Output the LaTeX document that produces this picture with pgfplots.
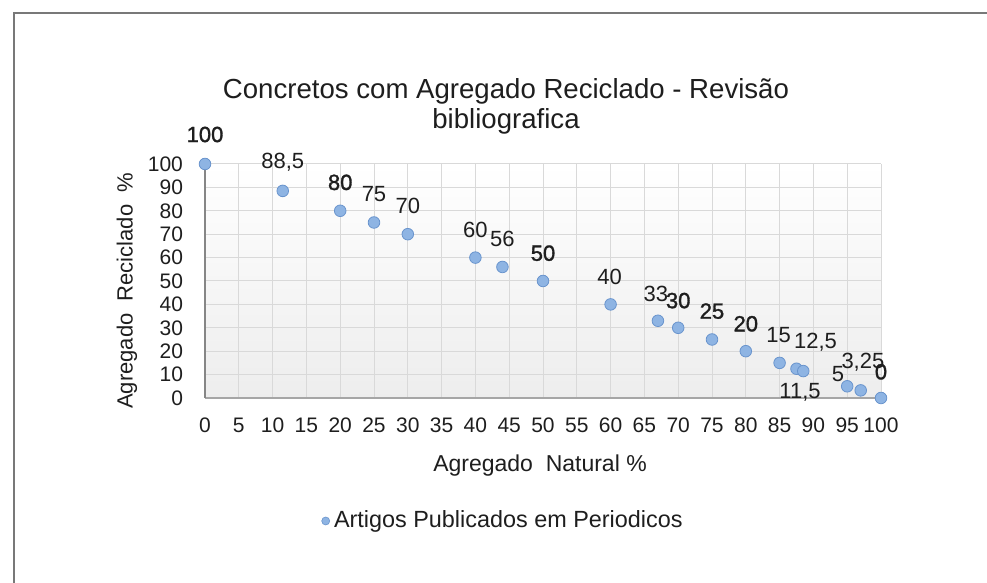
\documentclass[border=0pt]{standalone}
\usepackage{fontspec}
\setmainfont{Liberation Sans}
\newfontfamily\fbfont[FakeBold=1.4]{Liberation Sans}
\protected\def\fb#1{{\fbfont #1}}
\usepackage{pgfplots}
\pgfplotsset{compat=1.18}
\usepackage{pgfplotstable}

\definecolor{mfill}{RGB}{142,180,227}
\definecolor{mdraw}{RGB}{105,148,205}
\definecolor{gridc}{RGB}{217,217,217}
\definecolor{axc}{RGB}{134,134,134}
\definecolor{framec}{RGB}{120,120,120}
\definecolor{txt}{RGB}{30,30,30}

\pgfplotstableread{
x y lab dx dy
0 100 \fb{100} 0 14.75
11.5 88.5 88,5 0 14.2
20 80 \fb{80} 0 14.2
25 75 75 0 14
30 70 70 0 14
40 60 60 0 14
44 56 56 0 14
50 50 \fb{50} 0 13.9
60 40 40 -0.5 13.8
67 33 33 -1 13.5
70 30 \fb{30} 0 13.6
75 25 \fb{25} 0 14.2
80 20 \fb{20} 0 13.7
85 15 15 -0.5 13.8
87.5 12.5 12,5 9.5 13.2
88.5 11.5 11,5 -1.6 -10.5
95 5 5 -4.6 5.9
97 3.25 3,25 1.1 14
100 0 \fb{0} 0 13.1
}\data

\begin{document}
\begin{tikzpicture}
\useasboundingbox (0,0) rectangle (493.5pt,291.5pt);
\fill[white] (0,0) rectangle (493.5pt,291.5pt);
\draw[framec, line width=0.8pt] (7pt,0) -- (7pt,285pt) -- (493.5pt,285pt);
\node[anchor=base, font=\fontsize{13.8}{16}\selectfont, text=txt, inner sep=0pt] at (253pt,242.25pt) {Concretos com Agregado Reciclado - Revisão};
\node[anchor=base, font=\fontsize{13.8}{16}\selectfont, text=txt, inner sep=0pt] at (253pt,227pt) {bibliografica};
\begin{axis}[
  at={(102.5pt,92.5pt)}, anchor=south west,
  width=338pt, height=117pt, scale only axis,
  xmin=0, xmax=100, ymin=0, ymax=100,
  xtick={0,5,...,100}, ytick={0,10,...,100},
  grid=major, major grid style={gridc, line width=0.5pt},
  axis x line*=bottom, axis y line*=left,
  x axis line style={draw=black!35, line width=0.6pt, -},
  y axis line style={draw=axc, line width=0.7pt, -},
  major tick length=0pt,
  axis background/.style={shade, top color=white, bottom color=black!7},
  /pgf/number format/assume math mode=true,
  tick label style={font=\fontsize{10.5}{12}\selectfont, text=txt},
  xticklabel style={yshift=-6.5pt},
  yticklabel style={xshift=-7.5pt},
  xlabel={Agregado\ \ Natural \%},
  ylabel={Agregado\ \ Reciclado\ \ \%},
  label style={font=\fontsize{11.5}{13}\selectfont, text=txt},
  xlabel style={at={(axis description cs:0.4956,-0.2906)}, anchor=center},
  ylabel style={at={(axis description cs:-0.1154,0.458)}, anchor=center, font=\fontsize{11}{13}\selectfont},
  clip=false,
  legend style={at={(0.4423,-0.5256)}, anchor=center, draw=none, fill=none,
    font=\fontsize{11.7}{13}\selectfont, text=txt},
]
\addplot[only marks, mark=*, mark size=2.9pt,
  mark options={fill=mfill, draw=mdraw, line width=0.4pt},
  point meta=explicit symbolic,
  visualization depends on={\thisrow{dx} \as \dx},
  visualization depends on={\thisrow{dy} \as \dy},
  nodes near coords,
  every node near coord/.append style={font=\fontsize{11}{13}\selectfont, text=txt, anchor=center, xshift=\dx pt, yshift=\dy pt},
  legend image code/.code={\draw[fill=mfill, draw=mdraw, line width=0.3pt] (0pt,0pt) circle (2pt);}
] table[x=x, y=y, meta=lab] {\data};
\addlegendentry{Artigos Publicados em Periodicos}
\end{axis}
\end{tikzpicture}
\end{document}
